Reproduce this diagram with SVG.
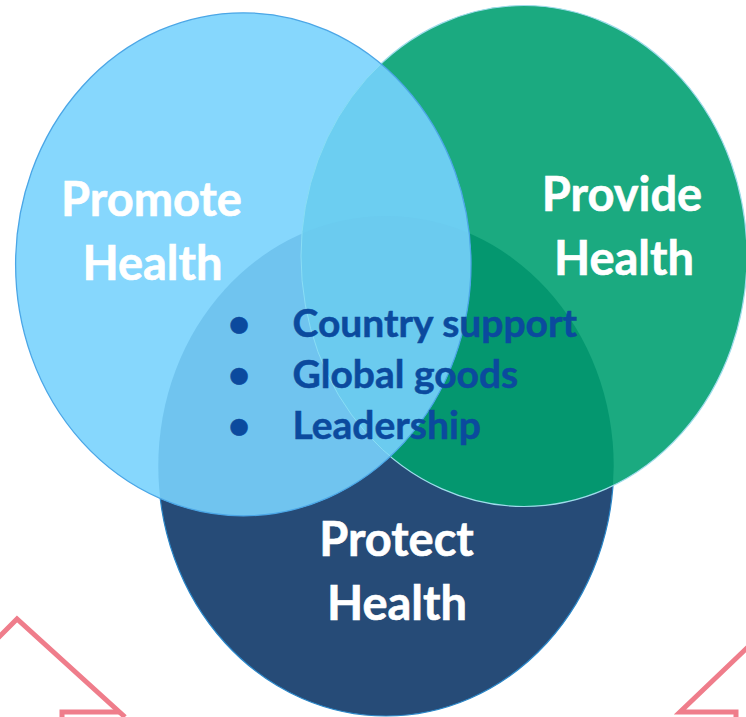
<svg xmlns="http://www.w3.org/2000/svg" width="746" height="717" viewBox="0 0 746 717">
  <style>
    .big { font-family: Lato, "Open Sans", "Liberation Sans", sans-serif; font-weight: 700; font-size: 47px; fill: #FFFFFF; stroke: #FFFFFF; stroke-width: 0.6; text-anchor: middle; }
    .item { font-family: Lato, "Open Sans", "Liberation Sans", sans-serif; font-weight: 700; font-size: 39px; fill: #0B4A9E; stroke: #0B4A9E; stroke-width: 0.5; }
    .dot { fill: #0B4A9E; }
    .decor { fill: none; stroke: #EF7D8B; stroke-width: 5; }
  </style>
  <defs>
    <ellipse id="eLight" cx="243.3" cy="264.3" rx="227.7" ry="251.5"/>
    <ellipse id="eGreen" cx="524" cy="256" rx="223" ry="250.5"/>
    <ellipse id="eDark" cx="386" cy="466" rx="227.7" ry="250"/>
    <clipPath id="cLight"><use href="#eLight"/></clipPath>
    <clipPath id="cGreen"><use href="#eGreen"/></clipPath>
    <clipPath id="cDark"><use href="#eDark"/></clipPath>
  </defs>
  <rect width="746" height="717" fill="#FFFFFF"/>

  <g id="decor">
    <path class="decor" d="M-2,638 L17,619 L125,717"/>
    <path class="decor" d="M62,720 V712 H120"/>
    <path class="decor" d="M748,647 L680,712 H736 V720"/>
  </g>

  <g id="protect">
    <use href="#eDark" fill="#264B77" stroke="#2A86C8" stroke-width="1.2"/>
  </g>
  <g id="provide">
    <use href="#eGreen" fill="#1BAA80"/>
    <g clip-path="url(#cDark)"><use href="#eGreen" fill="#04976F"/></g>
    <use href="#eGreen" fill="none" stroke="#9FDCEB" stroke-width="1.2"/>
  </g>
  <g id="promote">
    <use href="#eLight" fill="#86D7FD"/>
    <g clip-path="url(#cDark)"><use href="#eLight" fill="#70C4EF"/></g>
    <g clip-path="url(#cGreen)"><use href="#eLight" fill="#6CCEF1"/></g>
    <g clip-path="url(#cGreen)"><g clip-path="url(#cDark)"><use href="#eLight" fill="#6BCBEF"/></g></g>
    <g clip-path="url(#cLight)"><use href="#eGreen" fill="none" stroke="#8ADDF5" stroke-width="1"/></g>
    <use href="#eLight" fill="none" stroke="#4BA6E6" stroke-width="1.3"/>
  </g>

  <g id="labels">
    <text class="big" x="151.5" y="215.5">Promote</text>
    <text class="big" x="152.5" y="280">Health</text>
    <text class="big" x="622" y="211">Provide</text>
    <text class="big" x="624" y="275">Health</text>
    <text class="big" x="396.5" y="555.5">Protect</text>
    <text class="big" x="397" y="620">Health</text>
  </g>
  <g id="items">
    <text class="item" x="239" y="336.5" text-anchor="middle" font-size="44">•</text>
    <text class="item" x="292.5" y="336.5">Country support</text>
    <text class="item" x="239" y="388" text-anchor="middle" font-size="44">•</text>
    <text class="item" x="292.5" y="388">Global goods</text>
    <text class="item" x="239" y="438.5" text-anchor="middle" font-size="44">•</text>
    <text class="item" x="292.5" y="438.5">Leadership</text>
  </g>
</svg>
